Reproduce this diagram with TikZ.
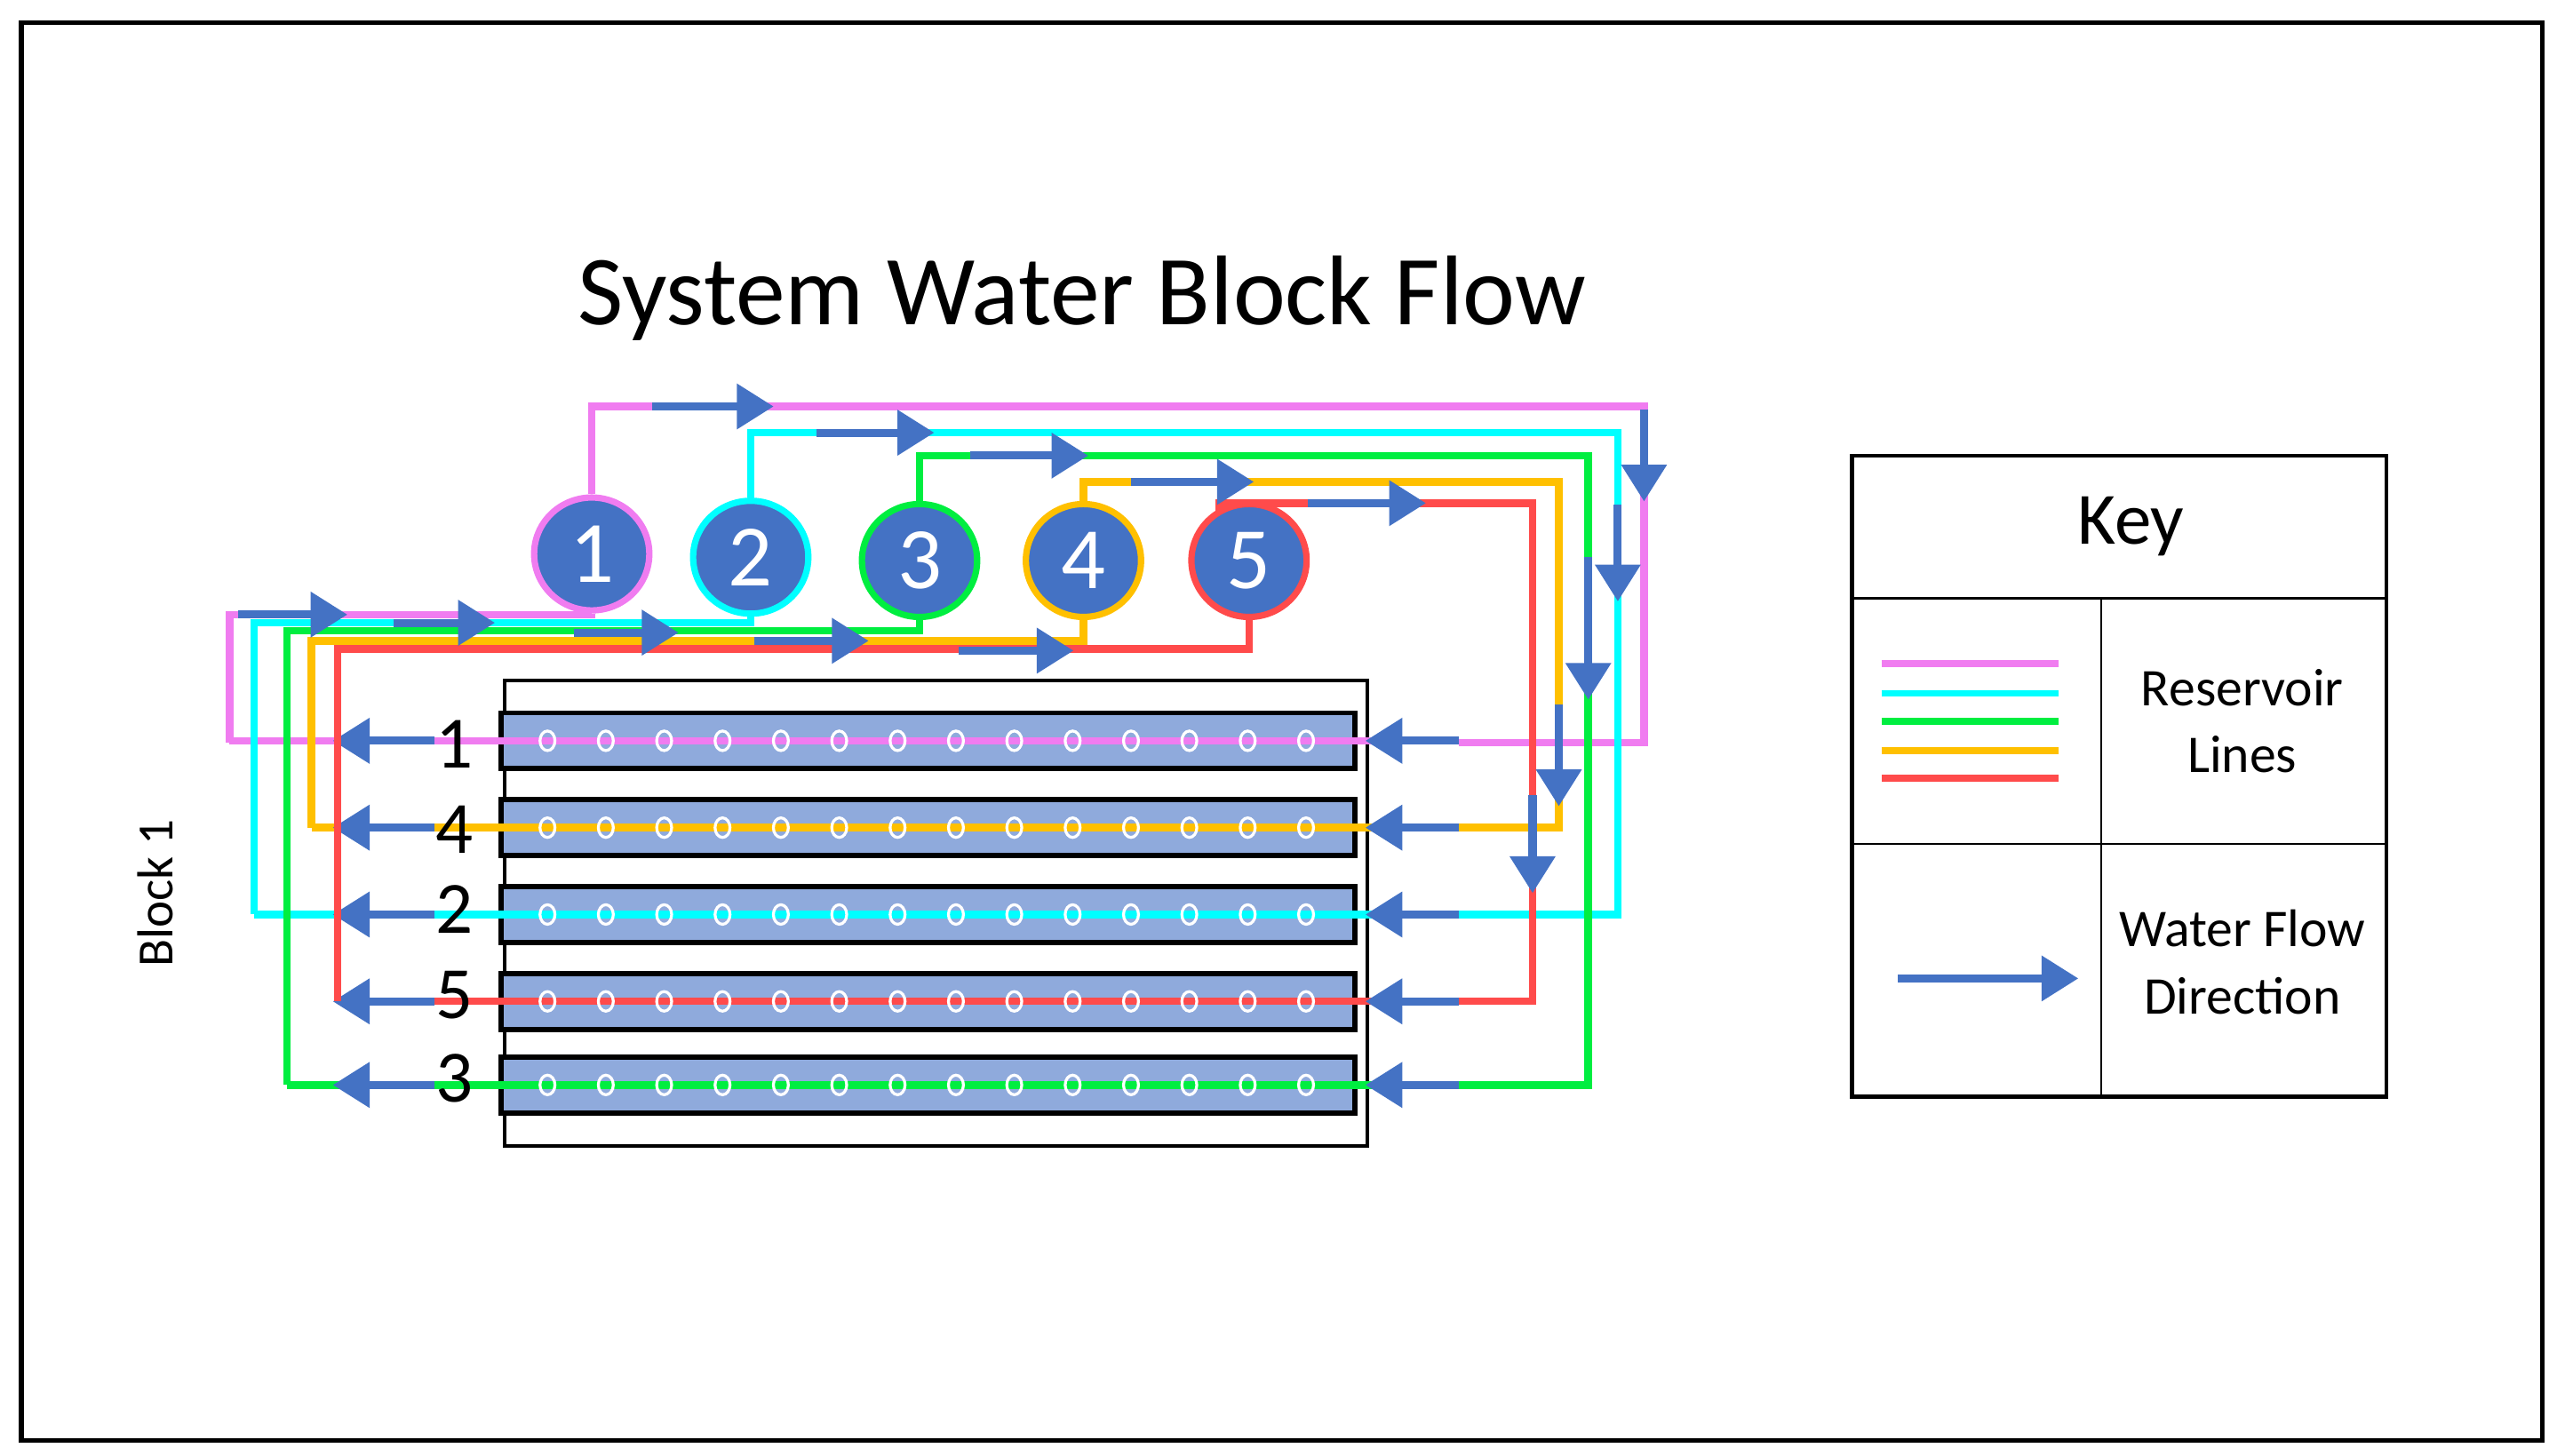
\documentclass[tikz,border=0pt]{standalone}
\usepackage{fontspec}
\setmainfont{Carlito}
\usetikzlibrary{arrows.meta,shapes.geometric}
\definecolor{pk}{HTML}{F07CF0}
\definecolor{cy}{HTML}{00FFFF}
\definecolor{gr}{HTML}{00EE40}
\definecolor{og}{HTML}{FFC000}
\definecolor{rd}{HTML}{FF4B4B}
\definecolor{bl}{HTML}{4472C4}
\definecolor{bar}{HTML}{8FAADC}
\tikzset{
 pipe/.style={line width=6.5pt},
 flow/.style={line width=7pt,bl,-{Triangle[length=32pt,width=38pt]}},
 res/.style={ellipse,draw,line width=5.5pt,fill=bl,minimum width=100pt,minimum height=98pt,inner sep=0pt,text=white,font=\fontsize{76}{76}\selectfont},
 bar/.style={draw=black,line width=4.5pt,fill=bar},
 dot/.style={draw=white,line width=2.5pt,ellipse,minimum width=13pt,minimum height=17pt,inner sep=0pt},
 lab/.style={font=\fontsize{64}{64}\selectfont},
}
\begin{document}
\begin{tikzpicture}[x=0.05cm,y=-0.05cm]
\useasboundingbox (0,0) rectangle (1560,888);
\draw[line width=4pt] (13,14) rectangle (1551,879);
\node[font=\fontsize{86}{86}\selectfont] (title) at (660,182) {System Water Block Flow};
% block
\draw[line width=3pt] (308,415) rectangle (834,699);
\foreach \n/\y in {b1/452,b4/505,b2/558,b5/611,b3/662}{
  \node[bar,minimum width=524*0.05cm-4.5pt,minimum height=34*0.05cm,inner sep=0pt,anchor=west] (\n) at (304,\y) {};
}
\foreach \y/\c/\lx in {452/pk/140,505/og/190,558/cy/155,611/rd/206,662/gr/175}{
  \draw[pipe,\c] (890,\y) -- (\lx,\y);
}
\foreach \y in {452,505,558,611,662}{
  \foreach \i in {0,...,13}{ \node[dot] at (334+35.6*\i,\y) {}; }
  \draw[flow] (890,\y) -- (833,\y);
  \draw[flow] (265,\y) -- (203,\y);
}
\foreach \l/\y in {1/454,4/506,2/555,5/607,3/658}{ \node[lab] at (277,\y) {\l}; }
\node[rotate=90,font=\fontsize{44}{44}\selectfont] (blk) at (95,545) {Block 1};
% reservoirs
\node[res,draw=pk] (r1) at (361,338) {1};
\node[res,draw=cy] (r2) at (458,340) {2};
\node[res,draw=gr] (r3) at (561,342) {3};
\node[res,draw=og] (r4) at (661,342) {4};
\node[res,draw=rd] (r5) at (762,342) {5};
% top loops
\draw[pipe,pk] (r1.north) |- (1003,248) -- (1003,453) -- (890,453);
\draw[pipe,cy] (r2.north) |- (987,264) -- (987,558) -- (890,558);
\draw[pipe,gr] (r3.north) |- (969,278) -- (969,662) -- (890,662);
\draw[pipe,og] (r4.north) |- (951,294) -- (951,505) -- (890,505);
\draw[pipe,rd] (r5.north west) ++(8,-4) coordinate (r5o) |- (935,307) -- (935,611) -- (890,611);
\draw[flow] (398,248) -- (472,248);
\draw[flow] (498,264) -- (570,264);
\draw[flow] (592,278) -- (664,278);
\draw[flow] (690,294) -- (765,294);
\draw[flow] (798,307) -- (870,307);
\draw[flow] (1003,250) -- (1003,306);
\draw[flow] (987,308) -- (987,367);
\draw[flow] (969,340) -- (969,427);
\draw[flow] (951,430) -- (951,492);
\draw[flow] (935,485) -- (935,545);
% left loops
\draw[pipe,pk] (140,453) -- (140,375) -| (r1.south);
\draw[pipe,cy] (155,558) -- (155,380) -| (r2.south);
\draw[pipe,gr] (175,662) -- (175,385) -| (r3.south);
\draw[pipe,og] (190,505) -- (190,391) -| (r4.south);
\draw[pipe,rd] (206,611) -- (206,396) -| (r5.south);
\draw[flow] (145,375) -- (212,375);
\draw[flow] (240,380) -- (302,380);
\draw[flow] (350,386) -- (414,386);
\draw[flow] (460,391) -- (530,391);
\draw[flow] (585,397) -- (655,397);
% key
\draw[line width=3.5pt] (1130,278) rectangle (1456,669);
\draw[line width=2pt] (1130,365) -- (1456,365) (1130,515) -- (1456,515) (1282,365) -- (1282,669);
\node[font=\fontsize{64}{64}\selectfont] (key) at (1300,321) {Key};
\foreach \y/\c in {405/pk,423/cy,440/gr,458/og,475/rd}{ \draw[line width=6pt,\c] (1148,\y) -- (1256,\y); }
\node[font=\fontsize{46}{58}\selectfont,align=center] (kl) at (1368,440) {Reservoir\\Lines};
\coordinate (ka) at (1158,597); \coordinate (kb) at (1268,597);
\draw[flow] (ka) -- (kb);
\node[font=\fontsize{46}{58}\selectfont,align=center] (kf) at (1368,587) {Water Flow\\Direction};
\end{tikzpicture}
\end{document}
